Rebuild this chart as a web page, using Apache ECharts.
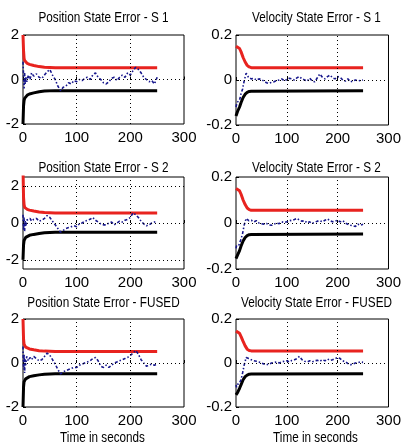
<!DOCTYPE html>
<html>
<head>
<meta charset="utf-8">
<script src="https://cdn.jsdelivr.net/npm/echarts@6/dist/echarts.min.js"></script>
<style>
  html, body { margin: 0; padding: 0; background: #fff; }
  #chart { width: 404px; height: 448px; }
</style>
</head>
<body>
<div id="chart"></div>
<script>
// Panel titles, row by row (position | velocity)
const panelTitles = [
  'Position State Error - S 1', 'Velocity State Error - S 1',
  'Position State Error - S 2', 'Velocity State Error - S 2',
  'Position State Error - FUSED', 'Velocity State Error - FUSED'
];
const timeTicks = [0, 100, 200, 300];
const posTicksS2 = [-2, 0, 2];
const xLabel = 'Time in seconds';

// Sample times of the estimation error traces (s)
const errTime = [0, 1, 2, 3, 4, 5, 7, 10, 13, 16,
  20, 25, 30, 35, 40, 45, 50, 55, 60, 65, 70, 75, 80, 85, 90, 95, 100,
  105, 110, 115, 120, 125, 130, 135, 140, 145, 150, 155, 160, 165, 170, 175, 180,
  185, 190, 195, 200, 205, 210, 215, 220, 225, 230, 235, 240, 245, 250];

// Position error
const posErrS1 = [0.8, 0.2, -0.4, 0.3, -0.2, 0.1, -0.1, 0.2, 0.0, 0.3,
  0.15, 0.25, 0.1, 0.05, 0.2, 0.35, 0.45, 0.2, 0.0, -0.3, -0.5, -0.35, -0.3, -0.15, -0.2, -0.05, -0.1,
  0.0, -0.05, 0.05, 0.1, 0.0, 0.2, 0.3, 0.1, 0.0, -0.15, -0.2, -0.1, 0.05, 0.1, -0.05, 0.1,
  0.2, 0.1, 0.3, 0.2, 0.4, 0.55, 0.45, 0.3, 0.1, 0.0, -0.1, -0.05, -0.2, 0.1];
const posErrS2 = [0.45, -0.4, 0.3, -0.45, 0.1, -0.2, 0.15, 0.1, 0.25, 0.1,
  0.2, 0.25, 0.1, 0.15, 0.25, 0.4, 0.3, 0.1, -0.1, -0.3, -0.5, -0.4, -0.3, -0.25, -0.2, -0.15, -0.2,
  -0.05, 0.0, 0.1, 0.15, 0.2, 0.3, 0.15, 0.05, -0.05, -0.1, -0.1, 0.0, 0.05, -0.1, 0.0, 0.1,
  0.05, 0.15, 0.2, 0.3, 0.55, 0.45, 0.3, 0.1, -0.05, -0.15, -0.1, 0.0, 0.05, 0.1];
const posErrFused = [0.75, -0.3, 0.4, -0.45, 0.2, -0.1, 0.3, 0.1, 0.25, 0.15,
  0.3, 0.2, 0.1, 0.15, 0.3, 0.45, 0.35, 0.15, -0.05, -0.3, -0.5, -0.4, -0.35, -0.3, -0.25, -0.2, -0.2,
  -0.1, -0.05, 0.0, 0.05, 0.1, 0.2, 0.25, 0.1, -0.15, -0.2, -0.1, -0.2, -0.1, 0.0, 0.05, 0.1,
  0.15, 0.2, 0.25, 0.35, 0.45, 0.57, 0.4, 0.15, 0.0, -0.15, -0.1, -0.05, -0.1, -0.05];

// Velocity error
const velErrS1 = [-0.12, -0.11, -0.1, -0.1, -0.095, -0.1, -0.09, -0.06, -0.04, -0.005,
  0.03, 0.01, 0.005, 0.008, 0.0, 0.005, 0.002, -0.005, -0.012, -0.015, -0.01, -0.008, -0.002, 0.0, 0.005, -0.003, 0.002,
  0.008, 0.005, 0.0, 0.01, 0.015, 0.005, 0.0, -0.005, 0.008, -0.005, -0.008, 0.01, 0.027, 0.012, 0.005, 0.015,
  0.022, 0.01, 0.005, 0.015, 0.012, 0.0, -0.005, 0.005, -0.008, -0.005, 0.0, -0.004, -0.002, 0.0];
const velErrS2 = [-0.11, -0.1, -0.1, -0.1, -0.1, -0.1, -0.095, -0.07, -0.045, -0.01,
  0.02, 0.01, 0.012, 0.005, 0.01, 0.0, -0.003, -0.005, -0.002, -0.008, -0.01, -0.005, 0.0, -0.003, 0.005, 0.002, 0.005,
  0.01, 0.012, 0.015, 0.02, 0.012, 0.008, 0.01, 0.0, 0.005, -0.002, 0.003, 0.008, 0.01, 0.005, 0.012, 0.018,
  0.01, 0.005, 0.008, 0.012, 0.005, 0.01, 0.0, -0.005, -0.01, -0.012, -0.015, -0.005, -0.01, -0.005];
const velErrFused = [-0.1, -0.11, -0.1, -0.1, -0.095, -0.1, -0.09, -0.075, -0.045, -0.01,
  0.025, 0.02, 0.015, 0.01, 0.008, 0.005, 0.0, -0.005, -0.008, -0.005, 0.0, 0.002, 0.005, 0.0, 0.005, 0.008, 0.01,
  0.005, 0.012, 0.015, 0.02, 0.03, 0.015, 0.008, 0.005, 0.01, 0.005, 0.01, 0.012, 0.008, 0.015, 0.01, 0.018,
  0.012, 0.015, 0.02, 0.025, 0.02, 0.01, 0.005, -0.002, -0.008, -0.005, 0.0, 0.002, 0.005, 0.003];

// Covariance bounds (upper / lower)
const posBoundTime = [0, 1, 2, 3, 5, 8, 12, 20, 30, 40, 60, 250];
const posUpperS1 = [2.0, 1.3, 0.95, 0.85, 0.78, 0.72, 0.68, 0.63, 0.58, 0.55, 0.53, 0.53];
const posLowerS1 = [-2.0, -1.2, -0.95, -0.85, -0.78, -0.7, -0.65, -0.6, -0.55, -0.52, -0.5, -0.5];
const posUpperS2 = [3.0, 1.4, 1.0, 0.85, 0.78, 0.74, 0.7, 0.65, 0.6, 0.57, 0.55, 0.55];
const posLowerS2 = [-2.0, -1.2, -0.95, -0.85, -0.78, -0.72, -0.67, -0.62, -0.57, -0.53, -0.5, -0.5];
const posUpperFused = [2.0, 1.1, 0.85, 0.78, 0.72, 0.68, 0.64, 0.6, 0.56, 0.54, 0.52, 0.52];
const posLowerFused = [-2.0, -1.1, -0.85, -0.78, -0.72, -0.67, -0.62, -0.58, -0.54, -0.51, -0.49, -0.49];

const velBoundTime = [0, 3, 7, 10, 14, 18, 22, 26, 30, 250];
const velUpperS1 = [0.15, 0.145, 0.14, 0.125, 0.1, 0.08, 0.065, 0.058, 0.055, 0.055];
const velLowerS1 = [-0.16, -0.14, -0.12, -0.1, -0.078, -0.063, -0.055, -0.051, -0.05, -0.048];
const velUpperS2 = [0.15, 0.145, 0.14, 0.125, 0.1, 0.08, 0.065, 0.058, 0.055, 0.055];
const velLowerS2 = [-0.155, -0.14, -0.12, -0.1, -0.078, -0.063, -0.055, -0.051, -0.05, -0.048];
const velUpperFused = [0.145, 0.14, 0.135, 0.12, 0.098, 0.078, 0.063, 0.057, 0.055, 0.055];
const velLowerFused = [-0.145, -0.135, -0.115, -0.098, -0.076, -0.062, -0.055, -0.051, -0.05, -0.049];

const FONT = '"Liberation Sans", Arial, sans-serif';
const RED = '#e8231f';
const NAVY = '#16168c';

// Plot boxes in pixels: [left, top, width, height]
const boxes = [
  [23, 35, 161, 89], [236, 35, 161, 90],
  [23, 177, 161, 92], [236, 177, 161, 92],
  [23, 319, 161, 88], [236, 319, 161, 88]
];
// vertical centre of each row's titles
const titleY = [18, 168, 303];

const panels = [
  { err: posErrS1, up: posUpperS1, lo: posLowerS1, bt: posBoundTime, min: -2, max: 2, step: 2, hy: [0] },
  { err: velErrS1, up: velUpperS1, lo: velLowerS1, bt: velBoundTime, min: -0.2, max: 0.2, step: 0.2, hy: [0] },
  { err: posErrS2, up: posUpperS2, lo: posLowerS2, bt: posBoundTime, min: -2.5, max: 2.5, custom: posTicksS2, hy: [-2, 0, 2] },
  { err: velErrS2, up: velUpperS2, lo: velLowerS2, bt: velBoundTime, min: -0.2, max: 0.2, step: 0.2, hy: [0] },
  { err: posErrFused, up: posUpperFused, lo: posLowerFused, bt: posBoundTime, min: -2, max: 2, step: 2, hy: [0] },
  { err: velErrFused, up: velUpperFused, lo: velLowerFused, bt: velBoundTime, min: -0.2, max: 0.2, step: 0.2, hy: [0] }
];

const zip = (xs, ys) => xs.map((x, i) => [x, ys[i]]);

const grid = [], xAxis = [], yAxis = [], series = [], graphic = [];

panels.forEach((p, i) => {
  const [l, t, w, h] = boxes[i];
  grid.push({ left: l, top: t, width: w, height: h, show: true,
    borderColor: '#000', borderWidth: 1, backgroundColor: '#fff' });

  xAxis.push({
    type: 'value', gridIndex: i, min: 0, max: 300, interval: 100,
    axisLine: { show: false },
    axisTick: { show: true, inside: true, length: 3, lineStyle: { color: '#000' } },
    axisLabel: { color: '#000', fontSize: 15, fontFamily: FONT, margin: 6,
      customValues: timeTicks },
    splitLine: { show: false }
  });

  const yLabel = { color: '#000', fontSize: 15, fontFamily: FONT, margin: 4 };
  const yTick = { show: true, inside: true, length: 3, lineStyle: { color: '#000' } };
  if (p.custom) {
    yLabel.customValues = p.custom;
    yTick.customValues = p.custom;
  }
  yAxis.push({
    type: 'value', gridIndex: i, min: p.min, max: p.max,
    interval: p.custom ? undefined : p.step,
    axisLine: { show: false }, axisTick: yTick, axisLabel: yLabel,
    splitLine: { show: false }
  });

  // dotted grid lines
  const gridLines = [{ xAxis: 100 }, { xAxis: 200 }].concat(p.hy.map(v => ({ yAxis: v })));
  series.push({
    type: 'line', xAxisIndex: i, yAxisIndex: i, data: [], silent: true,
    markLine: { silent: true, symbol: ['none', 'none'], label: { show: false },
      lineStyle: { color: '#000', width: 1, type: [1, 3] }, data: gridLines }
  });

  // covariance bounds
  series.push({
    type: 'line', xAxisIndex: i, yAxisIndex: i, data: zip(p.bt, p.up),
    symbol: 'none', lineStyle: { color: RED, width: 3 }, clip: true
  });
  series.push({
    type: 'line', xAxisIndex: i, yAxisIndex: i, data: zip(p.bt, p.lo),
    symbol: 'none', lineStyle: { color: '#000', width: 3 }, clip: true
  });
  // estimation error (dash-dot)
  series.push({
    type: 'line', xAxisIndex: i, yAxisIndex: i, data: zip(errTime, p.err),
    symbol: 'none', lineStyle: { color: NAVY, width: 1.6, type: [3, 2, 1.5, 2] }, clip: true
  });

  // panel title, slightly condensed
  graphic.push({
    type: 'text', x: l + w / 2, y: titleY[Math.floor(i / 2)], scaleX: 0.84,
    style: { text: panelTitles[i], fill: '#000', font: '14px ' + FONT,
      textAlign: 'center', textVerticalAlign: 'middle' }
  });
  // time axis caption under the bottom row
  if (i >= 4) {
    graphic.push({
      type: 'text', x: l + w / 2 - 1, y: 438, scaleX: 0.78,
      style: { text: xLabel, fill: '#000', font: '15px ' + FONT,
        textAlign: 'center', textVerticalAlign: 'middle' }
    });
  }
});

const chart = echarts.init(document.getElementById('chart'));
chart.setOption({
  animation: false,
  backgroundColor: '#fff',
  grid, xAxis, yAxis, series, graphic
});
</script>
</body>
</html>
